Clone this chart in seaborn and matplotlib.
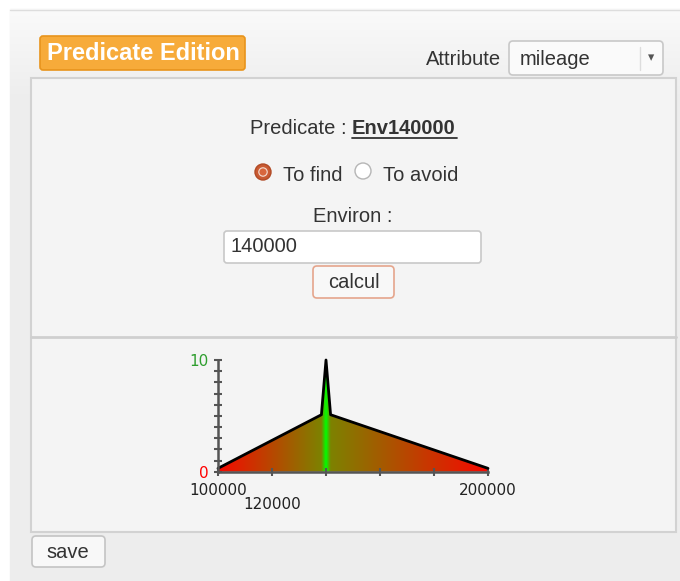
import numpy as np
import matplotlib.pyplot as plt
import matplotlib.patches as mpatches
import seaborn as sns

# chart data (environ membership around 140000)
mileage = [100000, 138300, 140000, 141700, 200000]
score = [0.3, 5.1, 10.0, 5.1, 0.3]
x_ticks = [100000, 120000, 140000, 160000, 180000, 200000]
x_tick_labels = ["100000", "\n120000", "", "", "", "200000"]
y_ticks = [0, 10]
y_tick_labels = ["0", "10"]

sns.set_style("white")
plt.rcParams["font.family"] = ["Liberation Sans", "DejaVu Sans"]

W, H = 680, 581
fig = plt.figure(figsize=(W / 100, H / 100), dpi=100)
fig.patch.set_facecolor("white")

bg = fig.add_axes([0, 0, 1, 1])
bg.set_xlim(0, W)
bg.set_ylim(H, 0)
bg.axis("off")

# outer panel with a soft top gradient
grad = np.linspace(0, 1, 100)[:, None]
top = np.array([0.98, 0.98, 0.98])
bot = np.array([0.93, 0.93, 0.93])
bg.add_patch(mpatches.Rectangle((10, 9), W - 10, H - 9, color="#ededed", zorder=0))
bg.imshow((top + (bot - top) * grad[:, :, None]) * np.ones((1, 2, 3)),
          extent=[10, W, 100, 9], aspect="auto", zorder=0.5)
bg.plot([10, W], [9.5, 9.5], color="#dddddd", lw=1, zorder=1)
bg.set_xlim(0, W)
bg.set_ylim(H, 0)

TXT = "#333333"
FS = 14.5
DY = 2  # va=center sits a little high against the page text


def box(x0, y0, x1, y1, fc, ec, r=3, lw=1.2, z=2):
    bg.add_patch(mpatches.FancyBboxPatch(
        (x0, y0), x1 - x0, y1 - y0, boxstyle=f"round,pad=0,rounding_size={r}",
        fc=fc, ec=ec, lw=lw, zorder=z))


def label(x, y, s, ha="left", **kw):
    kw.setdefault("color", TXT)
    kw.setdefault("fontsize", FS)
    bg.text(x, y + DY, s, ha=ha, va="center", zorder=5, **kw)


# inner panel
bg.add_patch(mpatches.Rectangle((31, 78), 645, 454, fc="#f4f4f4", ec="#d2d2d2",
                                lw=1.5, zorder=2))
bg.plot([31, 676], [337, 337], color="#cfcfcf", lw=2, zorder=3)

# header
box(40, 36, 245, 70, "#f7ab3a", "#e8941c", r=3)
label(143, 52, "Predicate Edition", ha="center", color="white", fontsize=17,
      fontweight="bold")
label(501, 57.5, "Attribute", ha="right")
box(509, 41, 663, 75, "#fafafa", "#c8c8c8", r=4)
bg.plot([640, 640], [47, 70], color="#dddddd", lw=1, zorder=4)
label(520, 57.5, "mileage")
label(651, 56, "▾", ha="center", color="#555555", fontsize=9, family="DejaVu Sans")

# predicate form
label(352, 126, "Predicate : ", ha="right")
label(352, 126, "Env140000", fontweight="bold")
bg.plot([352, 457], [137.5, 137.5], color=TXT, lw=1.3, zorder=5)

bg.add_patch(mpatches.Circle((263, 172), 8, fc="#c95a32", ec="#b14a25", lw=1, zorder=4))
bg.add_patch(mpatches.Circle((263, 172), 4.8, fc="#f3d8cc", ec="none", zorder=5))
bg.add_patch(mpatches.Circle((263, 172), 3.6, fc="#d8663c", ec="none", zorder=6))
label(283, 173.5, "To find")
bg.add_patch(mpatches.Circle((363, 171), 8, fc="white", ec="#b5b5b5", lw=1, zorder=4))
label(383, 173.5, "To avoid")

label(353, 215, "Environ :", ha="center")
box(224, 231, 481, 263, "white", "#c8c8c8", r=3)
label(230, 245, "140000")
box(313, 266, 394, 298, "#f8f8f8", "#e5a58c", r=4)
label(353.5, 281, "calcul", ha="center")

box(32, 536, 105, 567, "#f8f8f8", "#c4c4c4", r=4)
label(68, 550, "save", ha="center")

# chart
ax = fig.add_axes([218 / W, (H - 471.7) / H, 270 / W, 111.7 / H])
ax.patch.set_alpha(0)

xs = np.linspace(mileage[0], mileage[-1], 1200)
vals = np.interp(xs, mileage, score) / 10
colors = np.stack([1 - vals, vals, np.zeros_like(vals)], axis=1)[None, :, :]
im = ax.imshow(colors, extent=[mileage[0], mileage[-1], 0, 10], aspect="auto",
               origin="lower", interpolation="bilinear")
poly = mpatches.Polygon(np.column_stack([[mileage[0]] + mileage + [mileage[-1]],
                                         [0] + score + [0]]),
                        closed=True, transform=ax.transData, fc="none", ec="none")
ax.add_patch(poly)
im.set_clip_path(poly)

sns.lineplot(x=mileage, y=score, color="black", linewidth=2, ax=ax,
             estimator=None, sort=False)
ax.lines[-1].set_clip_on(False)

ax.set_xlim(mileage[0], mileage[-1])
ax.set_ylim(0, 10)
ax.set_xticks(x_ticks)
ax.set_xticklabels(x_tick_labels, fontsize=11, color="#222222",
                   family="DejaVu Sans", linespacing=0.95)
ax.set_yticks(y_ticks)
ax.set_yticklabels(y_tick_labels, fontsize=11, family="DejaVu Sans")
ax.set_yticks(range(1, 10), minor=True)
ax.get_yticklabels()[0].set_color("red")
ax.get_yticklabels()[1].set_color("#2e9e2e")
ax.tick_params(axis="both", which="both", direction="inout", length=6,
               width=1.5, color="#555555", pad=1, bottom=True, left=True)
ax.tick_params(axis="y", which="major", pad=4)
ax.tick_params(axis="x", which="major", pad=5)
for side in ["top", "right"]:
    ax.spines[side].set_visible(False)
for side in ["left", "bottom"]:
    ax.spines[side].set_color("#555555")
    ax.spines[side].set_linewidth(1.8)
ax.set_xlabel("")
ax.set_ylabel("")

fig.savefig("out.png", dpi=100)
